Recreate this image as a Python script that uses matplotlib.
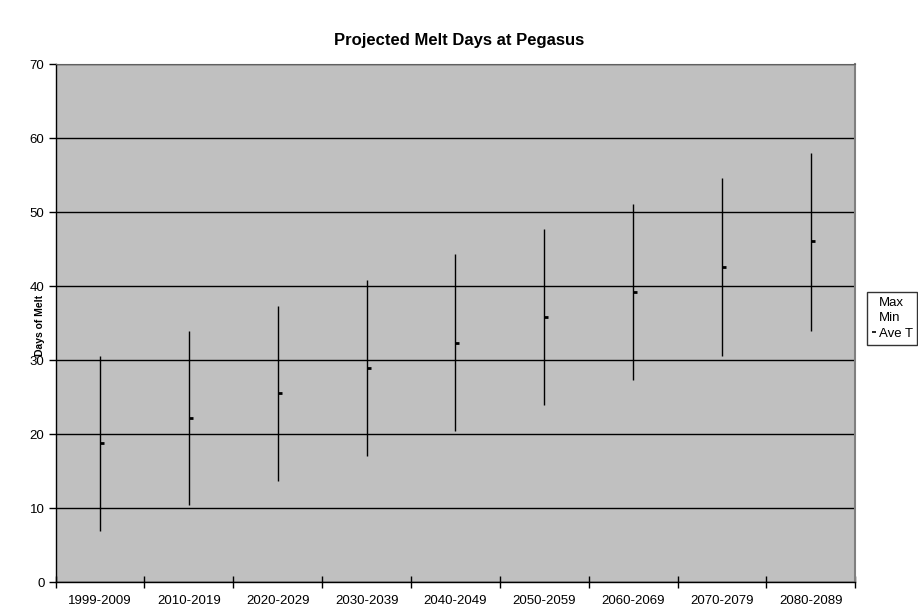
import matplotlib
matplotlib.use("Agg")
import matplotlib.pyplot as plt
from matplotlib.lines import Line2D

plt.rcParams['font.family'] = ['Liberation Sans', 'DejaVu Sans']

# data
periods = ["1999-2009", "2010-2019", "2020-2029", "2030-2039", "2040-2049",
           "2050-2059", "2060-2069", "2070-2079", "2080-2089"]
max_days = [30.6, 34.0, 37.4, 40.8, 44.3, 47.7, 51.1, 54.6, 58.0]
min_days = [7.0, 10.4, 13.7, 17.1, 20.5, 23.9, 27.3, 30.6, 34.0]
ave_days = [18.8, 22.2, 25.6, 29.0, 32.4, 35.8, 39.2, 42.6, 46.1]

fig = plt.figure(figsize=(9.18, 6.11), dpi=100)
ax = fig.add_axes([55.6/918, 1-582.3/611, (855.3-55.6)/918, (582.3-64.3)/611])
ax.set_facecolor("#C0C0C0")

x = list(range(len(periods)))

# horizontal gridlines
ax.set_axisbelow(True)
ax.yaxis.grid(True, color="black", linewidth=1)

# high-low lines and average ticks
ax.vlines(x, min_days, max_days, color="black", linewidth=1)
ax.hlines(ave_days, [i for i in x], [i + 0.045 for i in x], color="black", linewidth=2)

ax.set_xlim(-0.5, len(periods) - 0.5)
ax.set_ylim(0, 70)
ax.set_yticks(range(0, 71, 10))

# ticks at category boundaries, labels at centres
ax.set_xticks([i - 0.5 for i in range(len(periods) + 1)])
ax.set_xticklabels([])
ax.set_xticks(x, minor=True)
ax.set_xticklabels(periods, minor=True)
ax.tick_params(axis="x", which="major", direction="inout", length=9, width=1, color="black")
ax.tick_params(axis="x", which="minor", length=0, pad=9, labelsize=9.5)
ax.tick_params(axis="y", direction="out", length=5, width=1, labelsize=9.5, pad=3)

for side in ["left", "bottom"]:
    ax.spines[side].set_color("black")
    ax.spines[side].set_linewidth(1)
ax.spines["top"].set_color("#606060")
ax.spines["right"].set_color("#808080")
ax.spines["right"].set_linewidth(1.5)

fig.text(40/918, 1-325/611, "Days of Melt", rotation=90, ha="center", va="center",
         fontsize=7.5, fontweight="bold")
fig.text(459/918, 1-40/611, "Projected Melt Days at Pegasus", ha="center", va="center",
         fontsize=12, fontweight="bold")

handles = [Line2D([], [], linestyle="none"),
           Line2D([], [], linestyle="none"),
           Line2D([], [], linestyle="none", marker="_", color="black", markersize=3, markeredgewidth=1.2)]
leg = ax.legend(handles, ["Max", "Min", "Ave T"], loc="upper left",
                bbox_to_anchor=(867/918, 1-292/611), bbox_transform=fig.transFigure,
                borderaxespad=0, fontsize=9.5, frameon=True, fancybox=False,
                edgecolor="black", handlelength=0.3, handletextpad=0.25,
                labelspacing=0.25, borderpad=0.35)
leg.get_frame().set_linewidth(1)

fig.savefig("out.png", dpi=100)
